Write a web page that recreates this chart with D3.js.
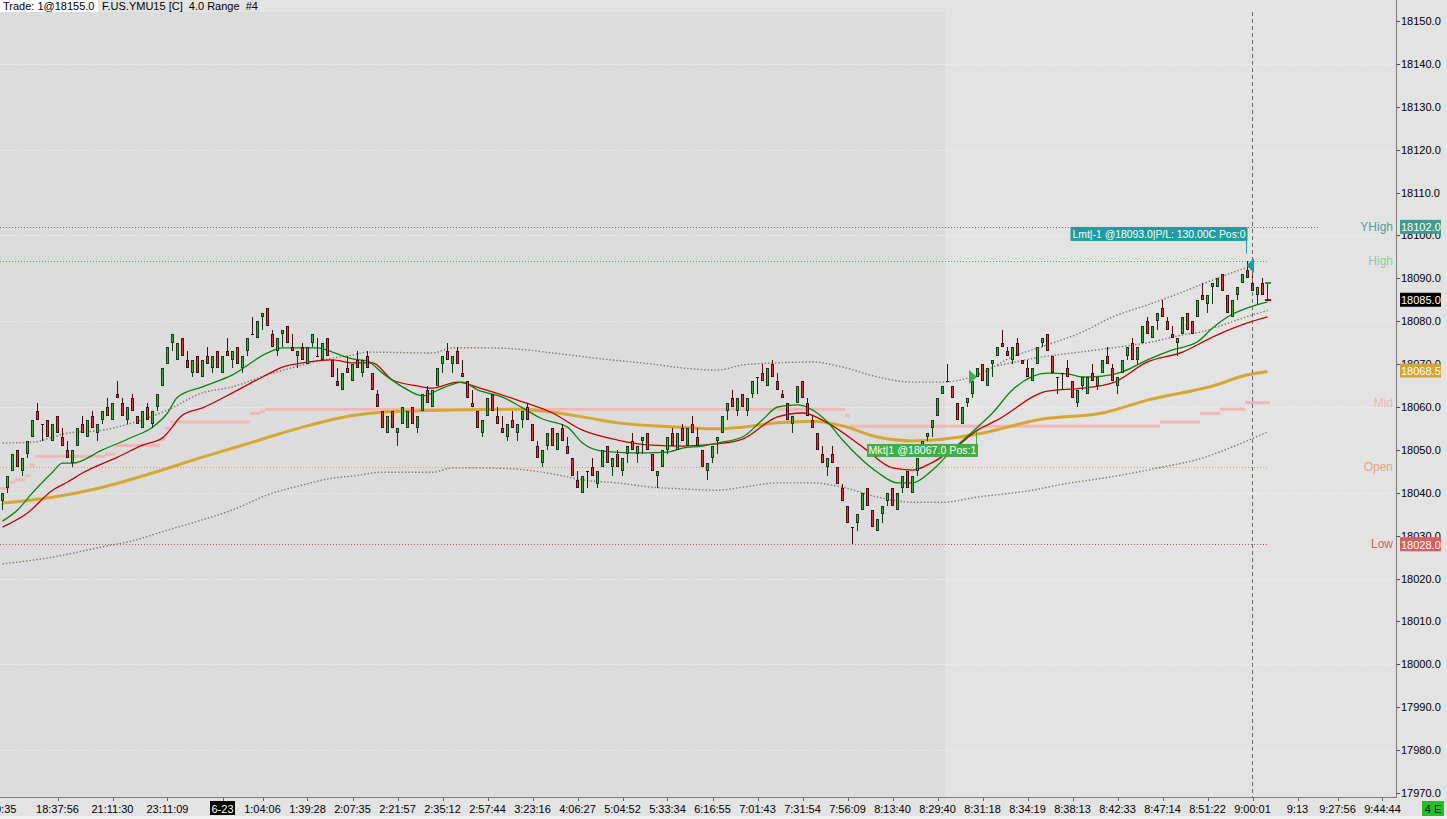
<!DOCTYPE html>
<html><head><meta charset="utf-8">
<script src="https://cdn.jsdelivr.net/npm/d3@7"></script>
<style>
html,body{margin:0;padding:0;background:#e3e3e3;overflow:hidden}
svg{display:block;font-family:"Liberation Sans",Arial,sans-serif}
</style></head><body>
<svg id="c" width="1447" height="819"></svg>
<script>
// ---------- DATA ----------
const opens=[18038,18041,18045,18050,18045,18049,18053,18059,18056,18057,
18052,18058,18053,18050,18047,18051,18056,18053,18058,18054,
18057,18060,18057,18063,18061,18057,18062,18058,18055,18060,
18056,18060,18065,18070,18075,18071,18076,18071,18068,18072,
18067,18072,18069,18073,18068,18073,18071,18074,18069,18073,
18077,18076,18081,18083,18077,18073,18077,18079,18074,18072,
18074,18070,18075,18072,18071,18076,18071,18066,18064,18069,
18066,18071,18068,18072,18068,18063,18059,18054,18059,18054,
18056,18055,18060,18055,18059,18064,18060,18065,18070,18073,
18070,18073,18068,18066,18061,18059,18054,18058,18063,18058,
18055,18053,18057,18054,18057,18060,18056,18051,18047,18051,
18055,18050,18055,18051,18048,18043,18040,18045,18046,18042,
18046,18051,18046,18049,18045,18049,18052,18049,18052,18054,
18049,18044,18046,18050,18054,18050,18055,18051,18056,18053,
18050,18045,18048,18052,18054,18059,18062,18059,18063,18059,
18063,18067,18068,18065,18070,18066,18063,18061,18056,18061,
18066,18061,18057,18054,18049,18046,18049,18046,18041,18037,
18032,18033,18036,18041,18036,18031,18035,18038,18041,18036,
18041,18045,18040,18045,18050,18053,18055,18058,18063,18066,
18065,18061,18056,18061,18063,18067,18070,18065,18070,18072,
18075,18073,18071,18075,18071,18069,18066,18070,18075,18077,
18072,18067,18068,18069,18066,18061,18065,18063,18068,18065,
18068,18072,18069,18065,18068,18072,18075,18071,18075,18080,
18076,18080,18083,18080,18077,18075,18077,18082,18080,18081,
18086,18084,18088,18088,18091,18086,18081,18086,18089,18092,
18089,18086,18089,18089];
const highs=[18040,18044,18049,18050,18048,18052,18057,18061,18056,18057,
18056,18058,18055,18052,18050,18055,18058,18057,18059,18056,
18059,18062,18061,18066,18062,18060,18063,18058,18059,18061,
18059,18063,18069,18074,18077,18075,18076,18073,18071,18072,
18071,18074,18072,18073,18072,18076,18073,18074,18072,18076,
18081,18080,18082,18083,18078,18076,18078,18079,18077,18073,
18075,18074,18077,18076,18075,18076,18071,18069,18068,18072,
18070,18073,18071,18073,18068,18064,18059,18058,18059,18055,
18060,18059,18060,18058,18063,18065,18064,18069,18072,18075,
18072,18074,18071,18066,18064,18059,18057,18062,18063,18060,
18058,18056,18059,18056,18059,18061,18056,18052,18050,18054,
18055,18054,18056,18053,18048,18045,18044,18045,18048,18045,
18050,18051,18048,18050,18048,18051,18054,18051,18053,18054,
18049,18045,18050,18053,18055,18054,18056,18055,18058,18055,
18050,18047,18051,18053,18058,18061,18064,18062,18063,18062,
18066,18067,18070,18069,18071,18068,18064,18061,18058,18065,
18066,18062,18058,18054,18051,18048,18051,18046,18042,18037,
18032,18035,18040,18041,18036,18034,18037,18040,18041,18040,
18044,18045,18044,18048,18052,18054,18057,18062,18065,18070,
18065,18061,18060,18062,18066,18069,18070,18069,18071,18074,
18078,18074,18074,18076,18071,18071,18069,18074,18076,18077,
18072,18067,18068,18071,18066,18064,18067,18067,18070,18067,
18071,18074,18070,18067,18071,18074,18076,18074,18079,18081,
18079,18082,18085,18081,18079,18076,18081,18082,18080,18085,
18089,18086,18089,18090,18091,18086,18085,18088,18091,18094,
18091,18088,18090,18089];
const lows=[18036,18040,18045,18046,18044,18048,18053,18057,18052,18053,
18052,18054,18051,18048,18046,18051,18054,18053,18055,18052,
18056,18058,18057,18062,18058,18056,18059,18056,18055,18057,
18055,18059,18065,18070,18073,18071,18072,18069,18067,18068,
18067,18070,18068,18069,18068,18072,18069,18070,18068,18072,
18077,18076,18078,18079,18074,18072,18074,18075,18073,18069,
18071,18070,18074,18072,18071,18072,18067,18065,18064,18068,
18066,18069,18067,18069,18064,18060,18055,18054,18055,18051,
18056,18055,18056,18054,18059,18061,18060,18065,18068,18071,
18068,18070,18067,18062,18060,18055,18053,18058,18059,18056,
18054,18052,18055,18052,18055,18057,18052,18048,18046,18050,
18051,18050,18052,18049,18044,18041,18040,18041,18044,18041,
18046,18047,18044,18046,18044,18047,18050,18047,18049,18050,
18045,18041,18046,18049,18051,18050,18052,18051,18054,18051,
18046,18043,18047,18049,18054,18057,18060,18058,18060,18058,
18062,18063,18066,18065,18067,18064,18062,18057,18054,18061,
18062,18058,18055,18050,18047,18044,18047,18042,18038,18033,
18028,18031,18036,18037,18032,18031,18033,18037,18037,18036,
18040,18041,18040,18044,18049,18052,18053,18058,18063,18066,
18062,18057,18056,18060,18062,18067,18066,18065,18067,18072,
18074,18072,18070,18072,18070,18067,18066,18070,18074,18073,
18068,18063,18064,18067,18062,18060,18064,18063,18066,18064,
18068,18070,18066,18063,18068,18071,18071,18070,18075,18077,
18076,18078,18081,18078,18076,18072,18077,18078,18077,18081,
18085,18082,18084,18088,18087,18082,18081,18085,18089,18090,
18087,18084,18086,18085];
const closes=[18040,18044,18049,18046,18048,18052,18057,18057,18056,18053,
18056,18054,18051,18048,18050,18055,18054,18057,18055,18056,
18059,18058,18061,18062,18058,18060,18059,18056,18059,18057,
18059,18063,18069,18074,18077,18075,18072,18069,18071,18068,
18071,18070,18072,18069,18072,18072,18073,18070,18072,18076,
18077,18080,18082,18079,18074,18076,18078,18075,18073,18073,
18071,18074,18077,18072,18075,18072,18067,18065,18068,18068,
18070,18069,18071,18069,18064,18060,18055,18058,18055,18055,
18060,18059,18056,18058,18063,18061,18064,18069,18072,18071,
18072,18070,18067,18062,18060,18055,18057,18062,18059,18056,
18054,18056,18055,18056,18059,18057,18052,18048,18050,18054,
18051,18054,18052,18049,18044,18041,18044,18045,18044,18045,
18050,18047,18048,18046,18048,18051,18050,18051,18053,18050,
18045,18045,18050,18053,18051,18054,18052,18055,18054,18051,
18046,18047,18051,18053,18058,18061,18060,18062,18060,18062,
18066,18067,18066,18069,18067,18064,18062,18057,18058,18065,
18062,18058,18055,18050,18047,18048,18047,18042,18038,18033,
18032,18035,18040,18037,18032,18034,18037,18040,18037,18040,
18044,18041,18044,18048,18052,18054,18057,18062,18065,18066,
18062,18057,18060,18062,18066,18069,18066,18069,18071,18074,
18074,18072,18074,18072,18070,18067,18069,18074,18076,18073,
18068,18067,18068,18067,18062,18064,18067,18067,18066,18067,
18071,18070,18066,18067,18071,18074,18071,18074,18079,18077,
18079,18082,18081,18078,18076,18076,18081,18078,18077,18085,
18085,18086,18089,18090,18087,18082,18085,18088,18091,18090,
18087,18088,18086,18085];

// indicator readings (bar index, price)
const fastIdx=[0,3,6,10,12,14,20,26,30,33,35,40,46,53,56,63,66,70,73,76,80,84,88,92,95,100,104,108,113,116,120,126,133,136,140,143,148,152,155,159,162,165,168,172,175,179,182,186,190,195,198,202,209,213,216,220,224,229,234,239,242,245,249,253];
const fastVal=[18033.4,18036.0,18040.0,18044.8,18046.9,18046.9,18050.0,18053.0,18055.3,18058.6,18062.3,18064.7,18067.5,18072.6,18073.8,18073.8,18072.8,18071.2,18070.7,18067.9,18064.7,18062.6,18064.4,18065.8,18064.0,18062.3,18059.8,18057.2,18055.3,18051.6,18049.7,18049.3,18049.5,18050.4,18050.9,18051.6,18053.0,18057.0,18060.0,18060.5,18059.3,18056.5,18052.3,18047.6,18044.8,18042.3,18042.3,18045.3,18050.0,18055.3,18058.6,18064.0,18067.9,18067.7,18067.0,18067.2,18068.2,18071.0,18073.3,18075.2,18078.4,18081.0,18083.1,18084.5];
const slowIdx=[0,5,10,13,16,23,28,32,36,40,46,52,56,60,66,70,74,78,83,86,91,96,103,110,116,123,130,136,143,148,155,160,165,172,178,182,185,190,195,199,209,216,222,229,236,242,249,253];
const slowVal=[18032.0,18035.3,18040.6,18042.5,18044.6,18048.3,18051.1,18052.8,18058.1,18059.8,18063.3,18067.0,18069.3,18070.3,18071.0,18070.3,18070.3,18066.3,18064.9,18064.4,18065.8,18064.2,18061.6,18058.6,18054.6,18052.3,18051.1,18050.9,18051.4,18052.5,18057.7,18058.6,18056.3,18050.7,18045.8,18045.3,18046.5,18050.0,18054.6,18057.0,18063.7,18064.4,18065.6,18070.5,18072.8,18076.3,18079.6,18081.0];
const maIdx=[0,6,20,30,40,50,60,70,76,90,103,110,116,123,130,136,143,148,155,162,168,175,182,188,195,208,220,229,242,249,253];
const maVal=[18037.6,18038.3,18041.3,18044.6,18048.3,18051.8,18055.3,18058.0,18058.8,18059.3,18059.5,18058.8,18057.7,18056.3,18055.6,18055.3,18054.9,18055.3,18056.3,18056.7,18055.6,18053.0,18052.1,18052.5,18053.7,18057.2,18058.6,18061.6,18064.9,18067.5,18068.3];
const upperIdx=[0,6,13,20,26,33,40,46,53,60,66,70,73,86,90,96,103,110,120,130,136,143,148,155,162,168,175,182,188,195,202,209,216,222,229,236,242,249];
const upperVal=[18051.6,18051.8,18053.9,18054.6,18056.3,18059.3,18063.3,18064.7,18067.5,18069.8,18071.4,18072.1,18072.8,18072.6,18073.8,18073.8,18073.5,18072.6,18071.2,18070.0,18069.1,18068.6,18069.8,18070.3,18070.5,18069.3,18067.0,18065.8,18065.8,18067.5,18071.7,18074.5,18077.5,18081.0,18083.8,18086.8,18089.6,18092.6];
const innerIdx=[199,208,214,224,230,236,240,244,249,253];
const innerVal=[18069.6,18071.7,18072.6,18074.1,18075.2,18076.8,18077.6,18079.1,18081.1,18082.5];
const lowerIdx=[0,10,20,26,33,40,46,53,60,66,70,76,86,90,96,103,110,116,123,130,136,143,148,155,162,168,175,182,188,195,206,212,220,226,232,240,246,253];
const lowerVal=[18023.4,18025.0,18027.4,18028.8,18031.3,18033.7,18036.0,18039.5,18041.8,18043.4,18043.9,18044.8,18044.8,18045.8,18045.8,18045.5,18044.4,18043.0,18042.3,18041.3,18040.9,18040.6,18041.3,18042.3,18042.3,18041.3,18039.0,18037.8,18037.8,18039.0,18040.6,18042.0,18043.4,18044.6,18046.0,18048.1,18050.7,18054.2];
const midStart=[0,2,3,5,6,7,21,23,32,33,34,50,52,53,169,170,232,240,244,249];
const midValue=[18041,18042.5,18043,18044,18046.5,18048.5,18049,18051,18052.5,18055,18056.5,18058.5,18059,18059.5,18058,18055.5,18056.5,18058.5,18059.5,18061];

const levelNames=['YHigh','High','Mid','Open','Low'];
const levelValues=[18102,18094,18061,18046,18028];
const timeLabels=['17:50:35','18:37:56','21:11:30','23:11:09','6-23','1:04:06','1:39:28','2:07:35','2:21:57','2:35:12','2:57:44','3:23:16','4:06:27','5:04:52','5:33:34','6:16:55','7:01:43','7:31:54','7:56:09','8:13:40','8:29:40','8:31:18','8:34:19','8:38:13','8:42:33','8:47:14','8:51:22','9:00:01','9:13','9:27:56','9:44:44'];
const timeIdx=[-1.5,11,22,33,44,52,61,70,79,88,97,106,115,124,133,142,151,160,169,178,187,196,205,214,223,232,241,250,259,267,276];
const priceTicks=d3.range(17970,18151,10);
const lastPrice=18085, maLast=18068.5;
const buyIdx=194, buyPrice=18067, sellIdx=249.5, sellPrice=18093, nowIdx=250, sessionStartIdx=188.5;

// ---------- DRAW ----------
const svg=d3.select('#c');
const N=closes.length;
const x=d3.scaleLinear().domain([0,253]).range([2.5,1267.5]);
const y=d3.scaleLinear().domain([17970,18150]).range([793,21]);
const ry=v=>Math.round(y(v))+0.5;
const fmt=d3.format('.1f');

svg.append('rect').attr('width',1447).attr('height',819).attr('fill','#e3e3e3');
svg.append('rect').attr('x',0).attr('y',12).attr('width',x(sessionStartIdx)).attr('height',786).attr('fill','#dcdcdc');

const plot=svg.append('g');
// grid
priceTicks.filter(v=>(v-17980)%20===0).forEach(v=>{
  plot.append('line').attr('x1',0).attr('x2',1393).attr('y1',ry(v)).attr('y2',ry(v))
    .attr('stroke','#f7f7f7').attr('stroke-dasharray','1,2');
});
// level lines
const levelLine={YHigh:['#6e6e6e',1320],High:['#4cae4c',1267],Open:['#e09a70',1267],Low:['#c84e4e',1267]};
levelNames.forEach((n,k)=>{
  if(!levelLine[n])return;
  plot.append('line').attr('x1',0).attr('x2',levelLine[n][1]).attr('y1',ry(levelValues[k])).attr('y2',ry(levelValues[k]))
    .attr('stroke',levelLine[n][0]).attr('stroke-dasharray','1,2');
});
// developing mid (pink steps)
midStart.forEach((s,k)=>{
  const e=k<midStart.length-1?midStart[k+1]:N;
  plot.append('line').attr('x1',x(s-0.5)).attr('x2',x(e-0.5)).attr('y1',y(midValue[k])).attr('y2',y(midValue[k]))
    .attr('stroke','#f1b7b7').attr('stroke-width',3);
});
const ln=d3.line().x(d=>x(d[0])).y(d=>y(d[1])).curve(d3.curveMonotoneX);
const zipS=(a,b)=>a.map((v,k)=>[v,b[k]]);
[[upperIdx,upperVal],[innerIdx,innerVal],[lowerIdx,lowerVal]].forEach(([a,b])=>{
  plot.append('path').attr('d',ln(zipS(a,b))).attr('fill','none').attr('stroke','#857463')
    .attr('stroke-width',1.4).attr('stroke-dasharray','1.4,2');
});
plot.append('path').attr('d',ln(zipS(maIdx,maVal))).attr('fill','none').attr('stroke','#d6a833').attr('stroke-width',3);
plot.append('path').attr('d',ln(zipS(slowIdx,slowVal))).attr('fill','none').attr('stroke','#c80000').attr('stroke-width',1.3);
plot.append('path').attr('d',ln(zipS(fastIdx,fastVal))).attr('fill','none').attr('stroke','#008c00').attr('stroke-width',1.3);

// candles
const gC=svg.append('g').attr('shape-rendering','crispEdges');
for(let i=0;i<N;i++){
  const cx=x(i),o=opens[i],c=closes[i],h=highs[i],l=lows[i];
  if(i===N-1){
    gC.append('line').attr('x1',cx).attr('x2',cx).attr('y1',y(h)).attr('y2',y(l)).attr('stroke','#2a2a2a');
    gC.append('rect').attr('x',cx-2.5).attr('y',Math.round(y(o))-1).attr('width',6).attr('height',2).attr('fill','#1aa31a');
    gC.append('rect').attr('x',cx-2.5).attr('y',Math.round(y(c))-1).attr('width',6).attr('height',2).attr('fill','#a80000');
    continue;
  }
  const up=c>o,dn=c<o;
  const edge=up?'#123d12':dn?'#4a0c0c':'#3a1616';
  const fill=up?'#36b236':'#e43636';
  gC.append('line').attr('x1',cx).attr('x2',cx).attr('y1',Math.round(y(h))).attr('y2',Math.round(y(l))).attr('stroke',edge);
  if(o===c){
    gC.append('rect').attr('x',cx-1.5).attr('y',Math.round(y(o))).attr('width',3).attr('height',1).attr('fill',edge);
  } else {
    const t=Math.round(y(Math.max(o,c))),b=Math.round(y(Math.min(o,c)));
    gC.append('rect').attr('x',cx-1.5).attr('y',t).attr('width',3).attr('height',b-t).attr('fill',edge);
    if(b-t>2)gC.append('rect').attr('x',cx-0.5).attr('y',t+1).attr('width',1).attr('height',b-t-2).attr('fill',fill);
  }
}

// now line
svg.append('line').attr('x1',x(nowIdx)).attr('x2',x(nowIdx)).attr('y1',12).attr('y2',798)
  .attr('stroke','#6a6a6a').attr('stroke-dasharray','4,3');

// trade markers
const bx=x(buyIdx),by=y(buyPrice);
svg.append('path').attr('d',`M${bx-3.5},${by-7}L${bx-3.5},${by+7}L${bx+4.5},${by}Z`).attr('fill','#3cb043');
svg.append('line').attr('x1',bx+4).attr('x2',bx+4).attr('y1',by+55).attr('y2',by+67).attr('stroke','#3cb043');
svg.append('rect').attr('x',bx-105.5).attr('y',by+67).attr('width',111).attr('height',13).attr('fill','#3cb043');
svg.append('text').attr('x',bx-104).attr('y',by+73.5).attr('dominant-baseline','central').attr('font-size',11)
  .attr('fill','#fff').attr('textLength',108).attr('lengthAdjust','spacingAndGlyphs').text('Mkt|1 @18067.0 Pos:1');

const sx=x(sellIdx),sy=y(sellPrice);
svg.append('path').attr('d',`M${sx-3.5},${sy}L${sx+4},${sy-7.5}L${sx+4},${sy+7.5}Z`).attr('fill','#17a0a0');
svg.append('line').attr('x1',sx-3.5).attr('x2',sx-3.5).attr('y1',sy-25).attr('y2',sy-12).attr('stroke','#17a0a0');
svg.append('rect').attr('x',sx-179.5).attr('y',sy-38.5).attr('width',177).attr('height',14).attr('fill','#17a0a0');
svg.append('text').attr('x',sx-177.5).attr('y',sy-31.5).attr('dominant-baseline','central').attr('font-size',11)
  .attr('fill','#fff').attr('textLength',173).attr('lengthAdjust','spacingAndGlyphs').text('Lmt|-1 @18093.0|P/L: 130.00C Pos:0');

// level labels
const levelColor={YHigh:'#4f9f94',High:'#8ccf8c',Mid:'#f0b5b5',Open:'#e8a27c',Low:'#d45a5a'};
levelNames.forEach((n,k)=>{
  const t=svg.append('text').attr('x',1393).attr('y',y(levelValues[k])).attr('text-anchor','end')
    .attr('dominant-baseline','central').attr('font-size',12).attr('fill',levelColor[n]).text(n);
});

// right axis
svg.append('line').attr('x1',1396.5).attr('x2',1396.5).attr('y1',0).attr('y2',798).attr('stroke','#7c7c7c');
priceTicks.forEach(v=>{
  svg.append('line').attr('x1',1396.5).attr('x2',1400).attr('y1',ry(v)).attr('y2',ry(v)).attr('stroke','#555');
  svg.append('text').attr('x',1401).attr('y',y(v)).attr('dominant-baseline','central').attr('font-size',11)
    .attr('fill','#000').text(fmt(v));
});
// price boxes
const boxes=[[18102,'#3f9c8c','#fff'],[lastPrice,'#000','#fff'],[maLast,'#d4a533','#fff'],[18028,'#d35f5f','#fff']];
boxes.forEach(([v,bg,fg])=>{
  svg.append('rect').attr('x',1400).attr('y',y(v)-7).attr('width',41).attr('height',14).attr('fill',bg);
  svg.append('text').attr('x',1401).attr('y',y(v)+0.5).attr('dominant-baseline','central').attr('font-size',11)
    .attr('fill',fg).text(fmt(v));
});

// bottom axis
svg.append('rect').attr('x',0).attr('y',798).attr('width',1447).attr('height',21).attr('fill','#e3e3e3');
svg.append('rect').attr('x',0).attr('y',816).attr('width',1447).attr('height',3).attr('fill','#f0f0f0');
svg.append('line').attr('x1',0).attr('x2',1396.5).attr('y1',797.5).attr('y2',797.5).attr('stroke','#7c7c7c');
timeLabels.forEach((t,k)=>{
  const tx=x(timeIdx[k]);
  svg.append('line').attr('x1',Math.round(tx)+0.5).attr('x2',Math.round(tx)+0.5).attr('y1',798).attr('y2',801).attr('stroke','#666');
  if(t==='6-23'){
    svg.append('rect').attr('x',tx-12.5).attr('y',801).attr('width',25).attr('height',14).attr('fill','#000');
    svg.append('text').attr('x',tx).attr('y',808.5).attr('text-anchor','middle').attr('dominant-baseline','central')
      .attr('font-size',11).attr('fill','#fff').text(t);
  } else {
    svg.append('text').attr('x',tx).attr('y',809).attr('text-anchor','middle').attr('dominant-baseline','central')
      .attr('font-size',11).attr('fill','#000').text(t);
  }
});
svg.append('rect').attr('x',1422).attr('y',801).attr('width',22).attr('height',15).attr('fill','#1fc01f');
svg.append('text').attr('x',1433).attr('y',808.5).attr('text-anchor','middle').attr('dominant-baseline','central')
  .attr('font-size',11).attr('fill','#000').style('white-space','pre').text('4 E');

// title
svg.append('rect').attr('x',0).attr('y',0).attr('width',98).attr('height',12).attr('fill','#fff');
svg.append('text').attr('x',3).attr('y',6).attr('dominant-baseline','central').attr('font-size',11).attr('fill','#000').text('Trade: 1@18155.0');
svg.append('text').attr('x',102).attr('y',6).attr('dominant-baseline','central').attr('font-size',11).attr('fill','#000')
  .style('white-space','pre').text('F.US.YMU15 [C]  4.0 Range  #4');
</script>
</body></html>
